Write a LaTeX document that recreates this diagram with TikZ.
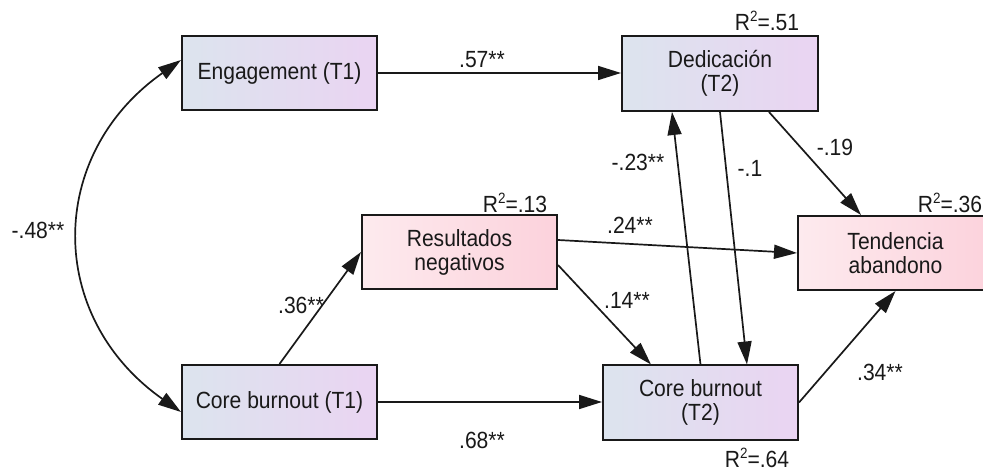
\documentclass[tikz,border=0pt]{standalone}
\usepackage{fontspec}
\setmainfont[FakeStretch=0.9]{Liberation Sans}
\usetikzlibrary{arrows.meta}
\definecolor{bluel}{RGB}{220,228,238}
\definecolor{lilac}{RGB}{234,212,242}
\definecolor{pinkl}{RGB}{253,234,238}
\definecolor{pinkr}{RGB}{252,210,220}
\definecolor{ink}{RGB}{25,25,25}
% R squared with a raised small 2
\newcommand\rsq[1]{R\raisebox{0.4em}{\fontsize{15}{15}\selectfont 2}=#1}

\begin{document}
\begin{tikzpicture}[x=1bp,y=-1bp,
  box/.style={draw=ink, line width=2bp, minimum width=195bp, minimum height=74bp,
    inner sep=0pt, align=center, font=\fontsize{23.5}{24}\selectfont, text=ink},
  tbox/.style={box, left color=bluel, right color=lilac},
  pbox/.style={box, left color=pinkl, right color=pinkr},
  lbl/.style={font=\fontsize{23.5}{24}\selectfont, text=ink, inner sep=0pt},
  conn/.style={draw=ink, line width=1.7bp, -{Triangle[length=23bp,width=14bp]}},
  ]
\useasboundingbox (0,0) rectangle (983,472);

% variables
\node[tbox] (eng) at (279.5,73) {Engagement (T1)};
\node[tbox, minimum width=196bp, minimum height=75bp] (ded) at (720,73.5) {Dedicación\\(T2)};
\node[pbox] (res) at (459.5,252) {Resultados\\negativos};
\node[pbox] (ten) at (895.5,253) {Tendencia\\abandono};
\node[tbox] (cb1) at (279.5,402) {Core burnout (T1)};
\node[tbox] (cb2) at (700.5,402.5) {Core burnout\\(T2)};

% paths
\draw[conn] (eng.east) -- (eng.east -| ded.west);
\draw[conn] ([xshift=148bp]ded.south west) -- ([xshift=64bp]ten.north west);
\draw[conn] (ded.south) -- ([xshift=145bp]cb2.north west);
\draw[conn] (cb2.north) -- ([xshift=51bp]ded.south west);
\draw[conn] ([yshift=12bp]res.east) -- (ten.west);
\draw[conn] ([yshift=-13bp]res.east) -- ([xshift=49bp]cb2.north west);
\draw[conn] (cb1.north) -- (res.west);
\draw[conn] (cb1.east) -- (cb1.east -| cb2.west);
\draw[conn] (cb2.east) -- (ten.south);
% covariance
\draw[conn, {Triangle[length=23bp,width=14bp]}-{Triangle[length=23bp,width=14bp]}]
  ([yshift=13bp]eng.west) .. controls (46,155) and (46,317) .. ([yshift=-10bp]cb1.west);

% coefficients
\node[lbl] (c57) at (482,60) {.57**};
\node[lbl] (c19) at (835,147) {-.19};
\node[lbl] (c23) at (638,162) {-.23**};
\node[lbl] (c10) at (750,168) {-.1};
\node[lbl] (c24) at (630,225) {.24**};
\node[lbl] (c48) at (38,230) {-.48**};
\node[lbl] (c36) at (301,305) {.36**};
\node[lbl] (c14) at (627,300) {.14**};
\node[lbl] (c34) at (880,372) {.34**};
\node[lbl] (c68) at (482,440) {.68**};

% explained variance
\node[lbl] (r51) at (767,21) {\rsq{.51}};
\node[lbl] (r13) at (515,203) {\rsq{.13}};
\node[lbl] (r36) at (950,203) {\rsq{.36}};
\node[lbl] (r64) at (757,458) {\rsq{.64}};
\end{tikzpicture}
\end{document}
